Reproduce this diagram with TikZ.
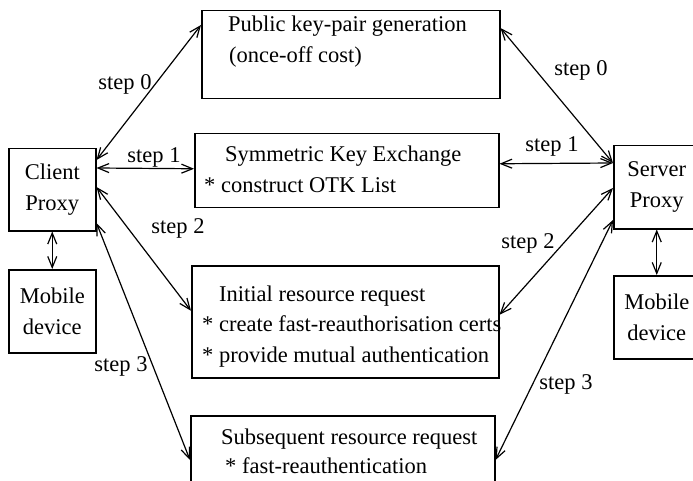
\documentclass[tikz,border=0pt]{standalone}
\usepackage{fontspec}
\setmainfont{Liberation Serif}
\usetikzlibrary{arrows.meta}
\begin{document}
\begin{tikzpicture}[x=1pt,y=-1pt,
  box/.style={draw, line width=1.5pt, inner sep=0pt, anchor=north west},
  txt/.style={anchor=base west, inner sep=0pt, font=\fontsize{22.5}{27}\selectfont},
  ctxt/.style={align=center, inner sep=0pt, font=\fontsize{22.5}{31}\selectfont},
  lbl/.style={inner sep=0pt, font=\fontsize{22.5}{27}\selectfont},
  link/.style={line width=1.2pt, {Straight Barb[length=11pt,width=9pt]}-{Straight Barb[length=11pt,width=9pt]}}]
\useasboundingbox (0,0) rectangle (693,481);
\clip (0,0) rectangle (693,481);
% boxes
\node[box, minimum width=298pt, minimum height=88pt]  (pub)    at (201,10)  {};
\node[box, minimum width=304pt, minimum height=74pt]  (sym)    at (194,133) {};
\node[box, minimum width=307pt, minimum height=112pt] (init)   at (191,265) {};
\node[box, minimum width=304pt, minimum height=90pt]  (subs)   at (190,415) {};
\node[box, minimum width=87pt,  minimum height=82pt]  (client) at (8,148)   {};
\node[box, minimum width=87pt,  minimum height=83pt]  (mobL)   at (8,269)   {};
\node[box, minimum width=86pt,  minimum height=83pt]  (server) at (613,145) {};
\node[box, minimum width=86pt,  minimum height=83pt]  (mobR)   at (613,275) {};
% box texts
\node[txt] (pub1) at (228,32) {Public key-pair generation};
\node[txt] (pub2) at (229,63) {(once-off cost)};
\node[txt] (sym1) at (225,162) {Symmetric Key Exchange};
\node[txt] (sym2) at (204,193) {* construct OTK List};
\node[txt] (init1) at (219,301) {Initial resource request};
\node[txt] (init2) at (202,331) {* create fast-reauthorisation certs};
\node[txt] (init3) at (202,362) {* provide mutual authentication};
\node[txt] (subs1) at (221,444) {Subsequent resource request};
\node[txt] (subs2) at (225,473) {* fast-reauthentication};
\node[ctxt] (clienttxt) at (client.center) {Client\\Proxy};
\node[ctxt] (mobLtxt) at (mobL.center) {Mobile\\device};
\node[ctxt] (servertxt) at (server.center) {Server\\Proxy};
\node[ctxt] (mobRtxt) at (mobR.center) {Mobile\\device};
% connectors
\draw[link] ([yshift=-12pt]client.north east) -- ([yshift=-15pt]pub.north west);
\draw[link] ([yshift=-18pt]pub.north east) -- ([yshift=-18pt]server.north west);
\draw[link] ([yshift=-20pt]client.north east) -- ([yshift=2pt]sym.west);
\draw[link] ([yshift=7pt]sym.east) -- ([yshift=-18pt]server.north west);
\draw[link] ([yshift=-39pt]client.north east) -- ([yshift=11pt]init.west);
\draw[link] ([yshift=-43pt]server.north west) -- ([yshift=7pt]init.east);
\draw[link] ([yshift=-75pt]client.north east) -- ([yshift=-45pt]subs.north west);
\draw[link] ([yshift=-75pt]server.north west) -- ([yshift=-45pt]subs.north east);
\draw[link] (client.south) -- (mobL.north);
\draw[link] (server.south) -- (mobR.north);
% labels
\node[lbl] (s0l) at (125,84)  {step 0};
\node[lbl] (s0r) at (581,70)  {step 0};
\node[lbl] (s1l) at (154,157) {step 1};
\node[lbl] (s1r) at (552,146) {step 1};
\node[lbl] (s2l) at (178,228) {step 2};
\node[lbl] (s2r) at (528,243) {step 2};
\node[lbl] (s3l) at (121,366) {step 3};
\node[lbl] (s3r) at (566,384) {step 3};
\end{tikzpicture}
\end{document}
